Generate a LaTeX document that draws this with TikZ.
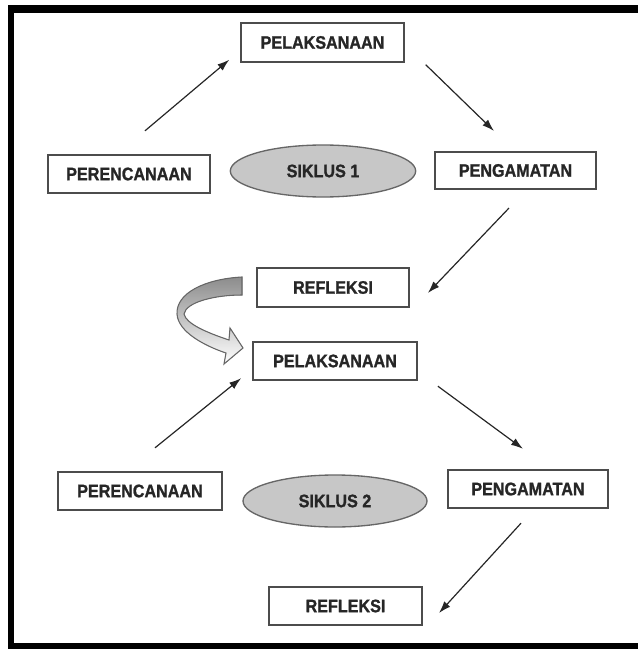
\documentclass[tikz,border=0pt]{standalone}
\usepackage{fontspec}
\setmainfont[FakeStretch=0.89, BoldFeatures={FakeBold=1.2}]{Liberation Sans}
\usetikzlibrary{shapes,arrows.meta,positioning,calc}

\begin{document}
\begin{tikzpicture}[
        x=0.75pt, y=-0.75pt,
        box/.style = {rectangle, draw=black!70, line width=1.3pt, fill=white, minimum width=121pt, minimum height=29pt, inner sep=0pt, font=\fontsize{13.6}{15}\selectfont\bfseries, text=black!85},
        siklus/.style = {ellipse, draw=black!60, line width=1pt, fill=black!22, minimum width=139pt, minimum height=39pt, inner sep=0pt, font=\fontsize{13.6}{15}\selectfont\bfseries, text=black!85},
        line/.style = {draw, black!85, line width=0.9pt, -{Latex[length=9pt,width=6pt]}}
    ]
    \useasboundingbox (0,0) rectangle (638,649);

        % Frame
        \fill [black] (8,5) rectangle (638,13);
        \fill [black] (8,5) rectangle (14,649);
        \fill [black] (8,643) rectangle (638,649);

        % Siklus 1
        \node [box, minimum width=122pt] at (322.5,42.5) (exec1) {PELAKSANAAN};
        \node [box] at (129,174) (plan1) {PERENCANAAN};
        \node [siklus] at (323,171) (cyc1) {SIKLUS 1};
        \node [box, minimum height=28pt] at (515.5,170.5) (obs1) {PENGAMATAN};
        \node [box, minimum width=114pt] at (333,287.5) (refl1) {REFLEKSI};

        % Siklus 2
        \node [box, minimum width=123pt] at (335,361) (exec2) {PELAKSANAAN};
        \node [box, minimum width=123pt] at (140,491) (plan2) {PERENCANAAN};
        \node [siklus, minimum width=138pt] at (335,501) (cyc2) {SIKLUS 2};
        \node [box, minimum width=120pt] at (528,489) (obs2) {PENGAMATAN};
        \node [box, minimum width=115pt] at (345.5,606) (refl2) {REFLEKSI};

        % Draw edges
        \draw [line] ([shift={(16,-23)}]plan1.north) -- ([shift={(-11,-3)}]exec1.south west);
        \draw [line] ([shift={(21,2)}]exec1.south east) -- ([shift={(-21.5,-20)}]obs1.north);
        \draw [line] ([shift={(-6.5,18)}]obs1.south) -- ([shift={(18,5.5)}]refl1.east);
        \draw [line] ([shift={(15,-23)}]plan2.north) -- ([shift={(-11,-3)}]exec2.south west);
        \draw [line] ([shift={(20,5)}]exec2.south east) -- ([shift={(-5,-20)}]obs2.north);
        \draw [line] ([shift={(-7,14)}]obs2.south) -- ([shift={(16,7)}]refl2.east);

        % Curved arrow
        \filldraw [draw=black!60, line width=0.8pt, top color=black!45, middle color=white, bottom color=white]
            (242,277) .. controls (205,279) and (176,293) .. (177,314)
            .. controls (178,332) and (205,346) .. (226,353)
            -- (224,364) -- (243,348) -- (230,328) -- (229,340)
            .. controls (208,333) and (186,324) .. (184,314)
            .. controls (186,302) and (215,295) .. (242,295) -- cycle;

    \end{tikzpicture}
\end{document}
